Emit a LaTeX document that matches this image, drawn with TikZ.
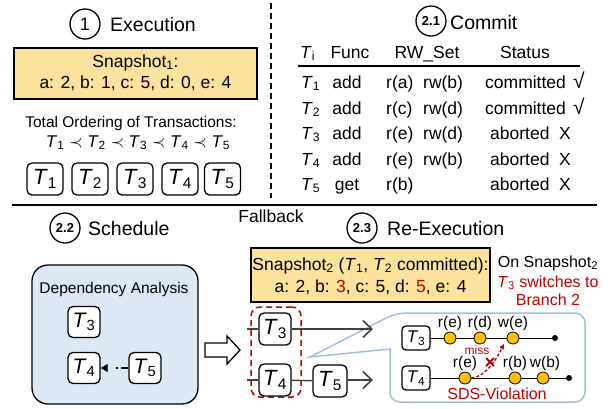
\documentclass[tikz,border=0pt]{standalone}
\usepackage{fontspec}
\setmainfont{Liberation Sans}
\usetikzlibrary{arrows.meta,calc}
\definecolor{snapfill}{HTML}{FBE29D}
\definecolor{depfill}{HTML}{DCE8F5}
\definecolor{callline}{HTML}{9FC0E2}
\definecolor{darkred}{HTML}{C00000}
\definecolor{dotfill}{HTML}{FFC000}
\definecolor{linegray}{HTML}{404040}
\newcommand\Tn[1]{\textit{T}\textsubscript{#1}}
\newcommand\fsz[1]{\fontsize{#1}{#1}\selectfont}
\tikzset{
  txt/.style={inner sep=0pt, anchor=base},
  stepnum/.style={circle, draw, line width=1.3pt, minimum size=30pt, inner sep=0pt},
  tbox/.style={draw, line width=1.3pt, rounded corners=5pt, minimum width=36pt,
    minimum height=32pt, inner sep=0pt, fill=white, font=\fsz{22}},
  dbox/.style={tbox, minimum width=32pt, minimum height=31pt, font=\fsz{21}},
  cbox/.style={tbox, minimum width=28pt, minimum height=24pt, rounded corners=4pt, font=\fsz{17}},
  snap/.style={draw, line width=1.3pt, fill=snapfill, inner sep=0pt},
  flow/.style={draw=linegray, line width=1.4pt},
  flowarrow/.style={flow, -{Straight Barb[length=9pt,width=17pt,line width=1.6pt]}},
  op/.style={circle, draw, fill=dotfill, minimum size=12pt, inner sep=0pt, line width=0.8pt},
  enddot/.style={circle, fill=black, minimum size=6pt, inner sep=0pt},
  oplabel/.style={txt, font=\fsz{15.5}},
}
\begin{document}
\begin{tikzpicture}[x=1pt,y=-1pt]
\useasboundingbox (0,0) rectangle (608,408);

% ---------- 1: Execution ----------
\node[stepnum, font=\fsz{18}] (c1) at (85,24) {1};
\node[txt, anchor=base west, font=\fsz{19.5}] (exec) at (110,31) {Execution};
\node[snap, minimum width=243pt, minimum height=51pt] (snap1) at (135.5,73.5) {};
\node[txt, font=\fsz{17.5}] (snap1a) at (135.5,67) {Snapshot\textsubscript{1}:};
\node[txt, font=\fsz{17.5}] (snap1b) at (135.5,88) {a: 2, b: 1, c: 5, d: 0, e: 4};
\node[txt, font=\fsz{15.5}] (order) at (131,127) {Total Ordering of Transactions:};
\node[txt, font=\fsz{17}] (orderseq) at (138,147)
  {\Tn{1} $\prec$ \Tn{2} $\prec$ \Tn{3} $\prec$ \Tn{4} $\prec$ \Tn{5}};
\foreach \i/\x in {1/45,2/90,3/135,4/180,5/222.5}
  \node[tbox] (e\i) at (\x,179) {\Tn{\i}};

% dividers
\coordinate (vtop) at (271,3);
\coordinate (vbot) at (271,198);
\draw[line width=1.3pt, dash pattern=on 6pt off 4pt] (vtop) -- (vbot);
\coordinate (hl) at (12,205);
\coordinate (hr) at (597,205);
\draw[line width=1.3pt] (hl) -- (hr);

% ---------- 2.1: Commit ----------
\node[stepnum, font=\fsz{13}\bfseries] (c21) at (431,21) {2.1};
\node[txt, anchor=base west, font=\fsz{19.5}] (commit) at (450,29) {Commit};
\begin{scope}[font=\fsz{17.5}]
\node[txt, anchor=base west] (hT) at (300,58) {\textit{T}\textsubscript{i}};
\node[txt] (hF) at (350,58) {Func};
\node[txt] (hR) at (427,58) {RW\_Set};
\node[txt] (hS) at (525,58) {Status};
\coordinate (rulel) at (298,66);
\coordinate (ruler) at (580,66);
\draw[line width=1.5pt] (rulel) -- (ruler);
\foreach \i/\y/\f/\r/\w in {1/88/add/r(a)/rw(b),2/114/add/r(c)/rw(d),3/139/add/r(e)/rw(d),4/165/add/r(e)/rw(b),5/190/get/r(b)/{}} {
  \node[txt, anchor=base west] (rT\i) at (301,\y) {\Tn{\i}};
  \node[txt] (rF\i) at (347,\y) {\f};
  \node[txt, anchor=base west] (rR\i) at (386,\y) {\r};
  \node[txt, anchor=base west] (rW\i) at (423,\y) {\w};
}
\foreach \i/\y in {1/88,2/114} {
  \node[txt, anchor=base west] (rS\i) at (485,\y) {committed};
  \node[txt, font=\fsz{21}] (rM\i) at (579,\y) {√};
}
\foreach \i/\y in {3/139,4/165,5/190} {
  \node[txt, anchor=base west] (rS\i) at (490,\y) {aborted};
  \node[txt] (rM\i) at (565,\y) {X};
}
\end{scope}

% ---------- 2.2: Schedule ----------
\node[stepnum, font=\fsz{13}\bfseries] (c22) at (65,228) {2.2};
\node[txt, anchor=base west, font=\fsz{19.5}] (sched) at (88,235) {Schedule};
\node[txt, font=\fsz{17.5}] (fallback) at (271,222) {Fallback};
\node[draw, line width=1.3pt, fill=depfill, rounded corners=16pt,
  minimum width=166pt, minimum height=139pt, inner sep=0pt] (dep) at (115,334.5) {};
\node[txt, font=\fsz{15.5}] (deplabel) at (114,293) {Dependency Analysis};
\node[dbox] (d3) at (84,322) {\Tn{3}};
\node[dbox] (d4) at (84,368) {\Tn{4}};
\node[dbox] (d5) at (145,368) {\Tn{5}};
\draw[line width=1.3pt, dash pattern=on 7pt off 3.5pt on 1.5pt off 30pt,
  -{Triangle[length=7pt,width=8pt]}] (d5) -- (d4);

% hollow arrow between the stages
\draw[line width=1.3pt, fill=white] (205,343) -- (227,343) -- (227,336) -- (240,350)
  -- (227,364) -- (227,357) -- (205,357) -- cycle;

% ---------- 2.3: Re-Execution ----------
\node[stepnum, font=\fsz{13}\bfseries] (c23) at (362,228) {2.3};
\node[txt, anchor=base west, font=\fsz{19.5}] (reexec) at (387,235) {Re-Execution};
\node[snap, minimum width=239pt, minimum height=54pt] (snap2) at (370.5,275) {};
\node[txt, font=\fsz{17.5}] (snap2a) at (370.5,270)
  {Snapshot\textsubscript{2} (\Tn{1}, \Tn{2} committed):};
\node[txt, font=\fsz{17.5}] (snap2b) at (370.5,292)
  {a: 2, b: \textcolor{darkred}{3}, c: 5, d: \textcolor{darkred}{5}, e: 4};
\node[txt, font=\fsz{16}] (onsnap) at (548,267) {On Snapshot\textsubscript{2}};
\node[txt, font=\fsz{16}, text=darkred] (switch) at (548,287) {\Tn{3} switches to};
\node[txt, font=\fsz{16}, text=darkred] (branch) at (548,305) {Branch 2};

% zoomed-in callout (drawn first so the lanes' arrows stay on top)
\coordinate (tip) at (310,357);
\draw[draw=callline, line width=1.5pt, fill=white]
  (tip) -- (390,349) [rounded corners=10pt] -- (390,402) -- (585,402) -- (585,313)
  -- (396,313) [sharp corners] -- cycle;

% parallel lanes
\node[draw=darkred, line width=1.5pt, dash pattern=on 6pt off 4pt, rounded corners=9pt,
  minimum width=50pt, minimum height=90pt, inner sep=0pt] (group) at (276,352) {};
\coordinate (in3) at (247,329);
\coordinate (in4) at (247,380);
\coordinate (out3) at (373,329);
\coordinate (out4) at (373,380);
\node[tbox, minimum width=32pt] (m3) at (275,329) {\Tn{3}};
\node[tbox, minimum width=32pt] (m4) at (275,380) {\Tn{4}};
\node[tbox, minimum width=34pt] (m5) at (330,381) {\Tn{5}};
\draw[flow] (in3) -- (m3);
\draw[flowarrow] (m3) -- (out3);
\draw[flow] (in4) -- (m4);
\draw[flow] (m4) -- (m5);
\draw[flowarrow] (m5.east |- out4) -- (out4);

\node[cbox] (k3) at (416,338) {\Tn{3}};
\node[cbox] (k4) at (416,378) {\Tn{4}};
\node[enddot] (k3end) at (555,338) {};
\node[enddot] (k4end) at (569,378) {};
\draw[line width=1pt] (k3) -- (k3end);
\draw[line width=1pt] (k4) -- (k4end);
\node[op] (a1) at (450,338) {};
\node[op] (a2) at (480,338) {};
\node[op] (a3) at (513,338) {};
\node[op] (b1) at (465,378) {};
\node[op] (b2) at (515,378) {};
\node[op] (b3) at (543,378) {};
\node[oplabel] (la1) at (450,327) {r(e)};
\node[oplabel] (la2) at (480,327) {r(d)};
\node[oplabel] (la3) at (513,327) {w(e)};
\node[oplabel] (lb1) at (465,367) {r(e)};
\node[oplabel] (lb2) at (515,367) {r(b)};
\node[oplabel] (lb3) at (545,367) {w(b)};
\node[txt, font=\fsz{12}, text=darkred] (miss) at (477,354) {miss};
\coordinate (missend) at (504,344);
\draw[darkred, line width=1.3pt, dash pattern=on 3pt off 2pt, -{Triangle[length=5pt,width=5pt]}]
  (b1.east) .. controls (486,377) and (497,358) .. (missend);
\coordinate (xc) at (490,362);
\draw[darkred, line width=1.8pt] ($(xc)+(-4,-4)$) -- ($(xc)+(4,4)$)
  ($(xc)+(-4,4)$) -- ($(xc)+(4,-4)$);
\node[txt, font=\fsz{16}, text=darkred] (sds) at (497,399) {SDS-Violation};
\end{tikzpicture}
\end{document}
